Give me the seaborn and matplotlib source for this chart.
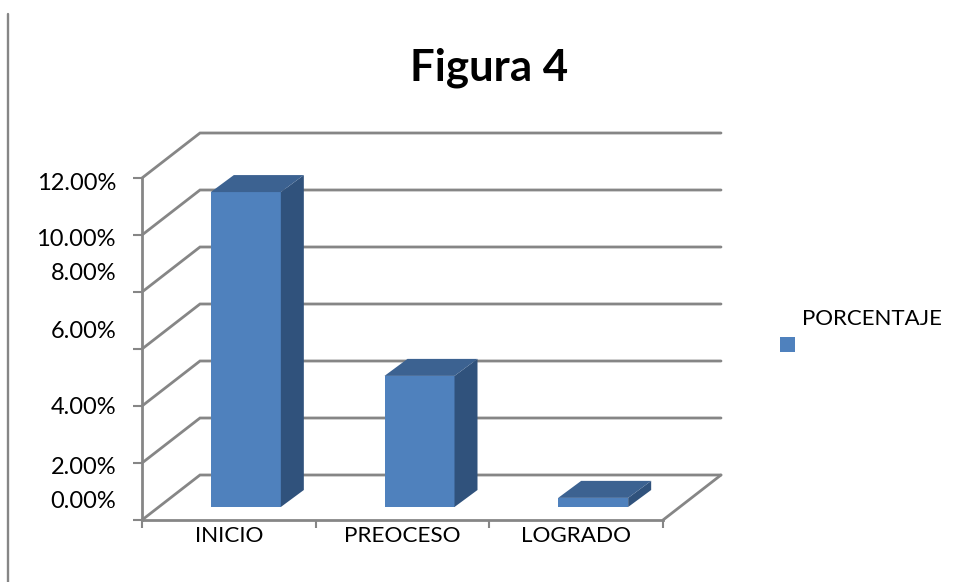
import matplotlib
matplotlib.use("Agg")
import matplotlib.pyplot as plt
import pandas as pd
import seaborn as sns
from matplotlib.patches import Polygon, Rectangle

categorias = ["INICIO", "PREOCESO", "LOGRADO"]
porcentaje = [11.05, 4.6, 0.32]
ticks_y = [0, 2, 4, 6, 8, 10, 12]
etiquetas_y = ["0.00%", "2.00%", "4.00%", "6.00%", "8.00%", "10.00%", "12.00%"]
# the labels sit unevenly next to their ticks in the original (pixels, + is down)
desfase_y = [-18, 5, 2, -18, -18, 4, 5]

W, H = 956, 582
AZUL, LADO, TAPA = "#4F81BD", "#30527C", "#3C6291"
GRIS = "#868686"

sns.set_theme(style="white")
plt.rcParams["font.family"] = ["Lato", "DejaVu Sans"]

fig = plt.figure(figsize=(W / 100, H / 100), dpi=100)


def caja(x0, y0, x1, y1):
    return [x0 / W, 1 - y1 / H, (x1 - x0) / W, (y1 - y0) / H]


ax = fig.add_axes(caja(142, 178, 663, 520))
ax.set_xlim(-0.5, 2.5)
ax.set_ylim(0, 12)
ax.patch.set_visible(False)
sns.despine(ax=ax, top=True, right=True)
for s in ["left", "bottom"]:
    ax.spines[s].set_color(GRIS)
    ax.spines[s].set_linewidth(2)

# depth of the fake 3d walls, in data units
ux = 521 / 3
uy = 342 / 12
dx, dy = 58 / ux, 45 / uy
for t in ticks_y:
    ax.plot([-0.5, -0.5 + dx, 2.5 + dx], [t, t + dy, t + dy], color=GRIS, lw=2,
            clip_on=False, solid_joinstyle="miter", zorder=1)
ax.plot([2.5, 2.5 + dx], [0, dy], color=GRIS, lw=2, clip_on=False, zorder=1)

ax.set_yticks(ticks_y)
ax.set_yticklabels([])
ax.tick_params(axis="y", left=True, length=6.5, width=1.5, color=GRIS)
ax.set_xticks([0, 1, 2])
ax.set_xticklabels(categorias, fontsize=16.2, color="black")
ax.set_xticks([-0.5, 0.5, 1.5, 2.5], minor=True)
ax.tick_params(axis="x", which="major", bottom=False, pad=-2)
ax.tick_params(axis="x", which="minor", bottom=True, length=5.5, width=1.5, color=GRIS)

for t, lab, d in zip(ticks_y, etiquetas_y, desfase_y):
    y_px = 520 - t * uy + d
    fig.text(116 / W, 1 - y_px / H, lab, ha="right", va="center", fontsize=17, color="black")

# bars live in an overlay shifted to the middle of the floor
barras = fig.add_axes(caja(142 + 17, 178 - 13, 663 + 17, 520 - 13))
df = pd.DataFrame({"categoria": categorias, "porcentaje": porcentaje})
sns.barplot(data=df, x="categoria", y="porcentaje", color=AZUL, saturation=1,
            width=70 / ux, linewidth=0, ax=barras, zorder=3)
barras.set_xlim(-0.5, 2.5)
barras.set_ylim(0, 12)
barras.axis("off")

bx, by = 23 / ux, 17 / uy
for p in list(barras.patches):
    x0, x1, h = p.get_x(), p.get_x() + p.get_width(), p.get_height()
    barras.add_patch(Polygon([(x1, 0), (x1 + bx, by), (x1 + bx, h + by), (x1, h)],
                             fc=LADO, ec="none", zorder=3, clip_on=False))
    barras.add_patch(Polygon([(x0, h), (x0 + bx, h + by), (x1 + bx, h + by), (x1, h)],
                             fc=TAPA, ec="none", zorder=3, clip_on=False))

fig.text(489 / W, 1 - 68 / H, "Figura 4", ha="center", va="center", fontsize=31.5,
         fontweight="bold", color="black")

# legend, with the text riding above its swatch like the original
fig.text(802 / W, 1 - 319 / H, "PORCENTAJE", ha="left", va="center", fontsize=16, color="black")
fig.add_artist(Rectangle((780 / W, 1 - 352 / H), 15 / W, 15 / H, transform=fig.transFigure,
                         fc=AZUL, ec="none"))

# border line on the left of the page
fig.add_artist(plt.Line2D([8 / W, 8 / W], [0, 1 - 14 / H], color=GRIS, lw=1.7))

fig.savefig("out.png", dpi=100, facecolor="white")
